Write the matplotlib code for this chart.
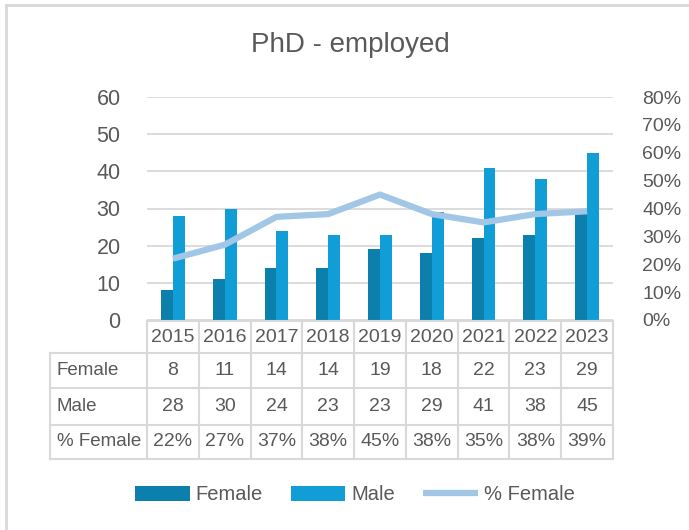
import matplotlib

matplotlib.use("Agg")
import matplotlib.pyplot as plt
from matplotlib.lines import Line2D

years = ["2015", "2016", "2017", "2018", "2019", "2020", "2021", "2022", "2023"]
female = [8, 11, 14, 14, 19, 18, 22, 23, 29]
male = [28, 30, 24, 23, 23, 29, 41, 38, 45]
pct_female = [22, 27, 37, 38, 45, 38, 35, 38, 39]
row_labels = ["Female", "Male", "% Female"]

C_FEMALE = "#0C7FAD"
C_MALE = "#119ED6"
C_PCT = "#A1C6E6"
C_TEXT = "#595959"
C_GRID = "#D9D9D9"

plt.rcParams["font.family"] = ["Liberation Sans", "DejaVu Sans"]

W, H = 689, 530
fig = plt.figure(figsize=(W / 100, H / 100), dpi=100)


def fx(px):
    return px / W


def fy(py):
    return 1 - py / H


# plot area in pixel coordinates
x0, x1 = 147, 613
y_top, y_bot = 97, 320
ax = fig.add_axes([fx(x0), fy(y_bot), fx(x1 - x0), (y_bot - y_top) / H])
n = len(years)
xs = list(range(n))
bw = 0.23
ax.bar([x - bw / 2 for x in xs], female, width=bw, color=C_FEMALE, label="Female", zorder=3)
ax.bar([x + bw / 2 for x in xs], male, width=bw, color=C_MALE, label="Male", zorder=3)
ax.set_xlim(-0.5, n - 0.5)
ax.set_ylim(0, 60)
ax.set_yticks(range(0, 61, 10))
ax.set_xticks([])
ax.grid(axis="y", color=C_GRID, linewidth=1.3, zorder=0)
ax.set_axisbelow(True)
for s in ax.spines.values():
    s.set_visible(False)
ax.tick_params(axis="y", length=0, labelsize=15.5, labelcolor=C_TEXT, pad=19)

ax2 = ax.twinx()
ax2.plot(xs, [p / 100 for p in pct_female], color=C_PCT, linewidth=4.5,
         solid_capstyle="butt", label="% Female", zorder=4)
ax2.set_ylim(0, 0.8)
ax2.set_yticks([i / 10 for i in range(9)])
ax2.set_yticklabels([f"{i * 10}%" for i in range(9)])
for s in ax2.spines.values():
    s.set_visible(False)
ax2.tick_params(axis="y", length=0, labelsize=14, labelcolor=C_TEXT, pad=21)

# data table below the plot
col_w = (x1 - x0) / n
row_edges = [321, 353, 388, 425, 459]
tbl_left = 50


def hline(y, xa, xb):
    fig.add_artist(Line2D([fx(xa), fx(xb)], [fy(y), fy(y)], color=C_GRID, linewidth=1.5))


def vline(x, ya, yb):
    fig.add_artist(Line2D([fx(x), fx(x)], [fy(ya), fy(yb)], color=C_GRID, linewidth=1.5))


hline(row_edges[0], x0, x1)
for y in row_edges[1:]:
    hline(y, tbl_left, x1)
vline(tbl_left, row_edges[1], row_edges[-1])
for i in range(n + 1):
    vline(x0 + i * col_w, row_edges[0], row_edges[-1])

rows = [years, [str(v) for v in female], [str(v) for v in male], [f"{v}%" for v in pct_female]]
for r, vals in enumerate(rows):
    yc = (row_edges[r] + row_edges[r + 1]) / 2
    for i, v in enumerate(vals):
        fig.text(fx(x0 + (i + 0.5) * col_w), fy(yc), v, ha="center", va="center",
                 fontsize=14, color=C_TEXT)
    if r > 0:
        fig.text(fx(tbl_left + 7), fy(yc), row_labels[r - 1], ha="left", va="center",
                 fontsize=13.5, color=C_TEXT)

fig.text(fx(350), fy(45), "PhD - employed", ha="center", va="center", fontsize=20, color=C_TEXT)

# outer chart frame (top and left edges visible)
fig.add_artist(Line2D([fx(6), 1], [fy(5), fy(5)], color=C_GRID, linewidth=2))
fig.add_artist(Line2D([fx(6), fx(6)], [fy(5), 0], color=C_GRID, linewidth=2))

h1, l1 = ax.get_legend_handles_labels()
h2, l2 = ax2.get_legend_handles_labels()
fig.legend(h1 + h2, l1 + l2, loc="center", bbox_to_anchor=(fx(355), fy(495)), ncol=3,
           frameon=False, fontsize=14.5, labelcolor=C_TEXT, handlelength=2.7,
           handleheight=0.7, handletextpad=0.3, columnspacing=1.4)

fig.savefig("out.png", dpi=100)
